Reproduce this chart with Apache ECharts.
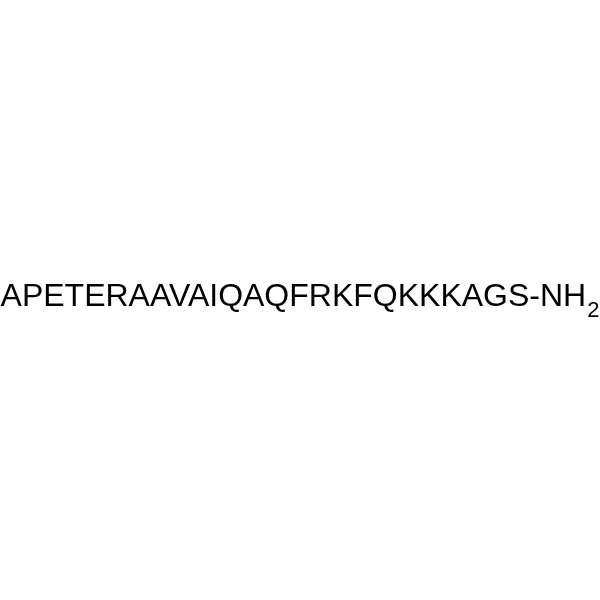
<!DOCTYPE html>
<html>
<head>
<meta charset="utf-8">
<script src="https://cdn.jsdelivr.net/npm/echarts@6/dist/echarts.min.js"></script>
<style>
html,body{margin:0;padding:0;background:#fff;}
#main{width:600px;height:600px;}
</style>
</head>
<body>
<div id="main"></div>
<script>
const sequence = 'APETERAAVAIQAQFRKFQKKKAGS-NH';
const subscript = '2';

const chart = echarts.init(document.getElementById('main'));
chart.setOption({
  backgroundColor: '#ffffff',
  animation: false,
  title: {
    text: '{m|' + sequence + '}{s|' + subscript + '}',
    left: 'center',
    top: 281,
    padding: 0,
    textStyle: {
      fontWeight: 'normal',
      rich: {
        m: {
          fontFamily: 'Liberation Sans',
          fontSize: 32,
          fontWeight: 'normal',
          color: '#000',
          lineHeight: 36,
          verticalAlign: 'top',
          padding: [0, 0, 0, 0]
        },
        s: {
          fontFamily: 'Liberation Sans',
          fontSize: 22,
          fontWeight: 'normal',
          color: '#000',
          lineHeight: 36,
          verticalAlign: 'top',
          padding: [19, 0, 0, 1]
        }
      }
    }
  }
});
</script>
</body>
</html>
